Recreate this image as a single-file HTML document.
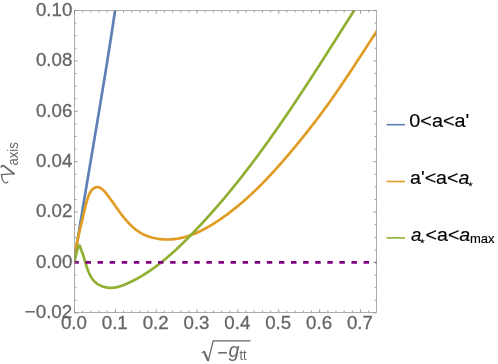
<!DOCTYPE html>
<html><head><meta charset="utf-8"><title>plot</title>
<style>html,body{margin:0;padding:0;background:#fff;overflow:hidden}svg{display:block;will-change:transform}text{font-family:"Liberation Sans",sans-serif}text.sf{font-family:"Liberation Serif",serif}</style>
</head><body>
<svg width="498" height="364" viewBox="0 0 498 364">
<rect width="498" height="364" fill="#fff"/>
<defs><clipPath id="c"><rect x="74.50" y="10.50" width="302.00" height="302.00"/></clipPath></defs>
<g clip-path="url(#c)" fill="none" stroke-linejoin="round">
<path d="M74.03 262.43 L74.72 258.07 L75.41 253.70 L76.10 249.34 L76.80 244.97 L77.50 240.61 L78.20 236.25 L78.91 231.88 L79.62 227.52 L80.33 223.16 L81.05 218.80 L81.77 214.44 L82.49 210.07 L83.21 205.71 L83.93 201.35 L84.66 196.99 L85.39 192.63 L86.12 188.27 L86.85 183.91 L87.58 179.55 L88.31 175.19 L89.05 170.83 L89.78 166.47 L90.52 162.11 L91.25 157.75 L91.99 153.39 L92.72 149.03 L93.46 144.67 L94.19 140.31 L94.93 135.95 L95.66 131.59 L96.39 127.23 L97.13 122.87 L97.86 118.51 L98.59 114.15 L99.31 109.79 L100.04 105.43 L100.76 101.07 L101.48 96.71 L102.20 92.34 L102.92 87.98 L103.64 83.62 L104.35 79.25 L105.06 74.89 L105.76 70.52 L106.47 66.16 L107.17 61.79 L107.86 57.43 L108.56 53.06 L109.24 48.69 L109.93 44.33 L110.61 39.96 L111.28 35.59 L111.96 31.22 L112.62 26.85 L113.28 22.47 L113.94 18.10 L114.59 13.73 L115.24 9.36 L115.88 4.98" stroke="#5e81b5" stroke-width="2.7"/>
<path d="M74.52 262.50 L74.56 261.29 L74.62 260.07 L74.70 258.86 L74.79 257.65 L74.90 256.44 L75.02 255.24 L75.15 254.04 L75.30 252.84 L75.47 251.64 L75.64 250.44 L75.83 249.25 L76.02 248.06 L76.23 246.87 L76.45 245.68 L76.67 244.49 L76.90 243.30 L77.14 242.11 L77.39 240.93 L77.64 239.74 L77.89 238.56 L78.15 237.37 L78.42 236.19 L78.69 235.01 L78.96 233.83 L79.23 232.64 L79.50 231.46 L79.78 230.28 L80.06 229.10 L80.34 227.92 L80.62 226.74 L80.90 225.56 L81.18 224.38 L81.46 223.20 L81.75 222.02 L82.03 220.85 L82.31 219.67 L82.60 218.49 L82.88 217.32 L83.16 216.14 L83.44 214.97 L83.71 213.80 L83.99 212.62 L84.26 211.45 L84.53 210.28 L84.80 209.11 L85.07 207.94 L85.34 206.77 L85.62 205.60 L85.91 204.43 L86.21 203.26 L86.52 202.09 L86.86 200.92 L87.21 199.75 L87.59 198.57 L88.00 197.39 L88.44 196.22 L88.91 195.04 L89.43 193.86 L89.99 192.71 L90.62 191.61 L91.33 190.59 L92.12 189.66 L93.00 188.85 L93.95 188.17 L94.94 187.64 L95.95 187.28 L96.98 187.11 L98.00 187.13 L99.00 187.35 L99.98 187.74 L100.95 188.28 L101.89 188.95 L102.82 189.74 L103.73 190.61 L104.61 191.56 L105.48 192.56 L106.32 193.59 L107.14 194.63 L107.94 195.66 L108.71 196.68 L109.46 197.69 L110.20 198.69 L110.92 199.68 L111.62 200.66 L112.32 201.64 L113.00 202.61 L113.68 203.57 L114.35 204.53 L115.02 205.49 L115.69 206.45 L116.36 207.41 L117.03 208.37 L117.71 209.33 L118.40 210.29 L119.09 211.26 L119.80 212.23 L120.52 213.20 L121.24 214.17 L121.98 215.14 L122.73 216.11 L123.49 217.07 L124.26 218.02 L125.04 218.97 L125.84 219.91 L126.65 220.84 L127.47 221.76 L128.30 222.67 L129.15 223.57 L130.01 224.44 L130.88 225.31 L131.77 226.15 L132.67 226.98 L133.59 227.78 L134.52 228.57 L135.47 229.33 L136.44 230.07 L137.42 230.78 L138.41 231.46 L139.42 232.12 L140.45 232.74 L141.50 233.34 L142.56 233.91 L143.64 234.45 L144.72 234.95 L145.83 235.44 L146.94 235.89 L148.07 236.31 L149.21 236.71 L150.36 237.08 L151.51 237.42 L152.68 237.74 L153.86 238.02 L155.04 238.29 L156.23 238.52 L157.42 238.73 L158.62 238.92 L159.83 239.07 L161.03 239.21 L162.25 239.32 L163.46 239.40 L164.67 239.46 L165.89 239.50 L167.10 239.51 L168.32 239.49 L169.53 239.46 L170.74 239.40 L171.95 239.32 L173.15 239.21 L174.35 239.09 L175.55 238.94 L176.74 238.77 L177.93 238.58 L179.11 238.36 L180.28 238.13 L181.46 237.88 L182.62 237.61 L183.79 237.32 L184.95 237.01 L186.10 236.68 L187.25 236.33 L188.39 235.97 L189.53 235.59 L190.67 235.19 L191.80 234.78 L192.93 234.35 L194.05 233.91 L195.17 233.45 L196.28 232.98 L197.39 232.49 L198.49 231.99 L199.59 231.48 L200.68 230.95 L201.77 230.41 L202.86 229.86 L203.94 229.30 L205.02 228.72 L206.09 228.14 L207.16 227.54 L208.22 226.94 L209.28 226.32 L210.33 225.70 L211.38 225.07 L212.43 224.43 L213.47 223.78 L214.50 223.13 L215.53 222.46 L216.56 221.80 L217.58 221.12 L218.60 220.44 L219.62 219.75 L220.62 219.06 L221.63 218.37 L222.63 217.67 L223.62 216.96 L224.62 216.25 L225.60 215.54 L226.59 214.82 L227.57 214.10 L228.54 213.37 L229.51 212.64 L230.48 211.90 L231.44 211.16 L232.40 210.42 L233.35 209.67 L234.30 208.92 L235.25 208.16 L236.19 207.40 L237.13 206.63 L238.07 205.86 L239.00 205.09 L239.93 204.31 L240.85 203.53 L241.77 202.75 L242.69 201.96 L243.60 201.17 L244.51 200.37 L245.42 199.57 L246.32 198.77 L247.22 197.96 L248.12 197.15 L249.01 196.34 L249.90 195.52 L250.79 194.70 L251.68 193.88 L252.56 193.05 L253.43 192.22 L254.31 191.39 L255.18 190.55 L256.05 189.71 L256.92 188.87 L257.78 188.03 L258.64 187.18 L259.50 186.33 L260.35 185.47 L261.20 184.62 L262.05 183.76 L262.90 182.90 L263.74 182.03 L264.59 181.17 L265.43 180.30 L266.26 179.42 L267.10 178.55 L267.93 177.67 L268.76 176.79 L269.59 175.91 L270.41 175.03 L271.23 174.14 L272.05 173.25 L272.87 172.36 L273.69 171.47 L274.50 170.58 L275.32 169.68 L276.13 168.78 L276.93 167.88 L277.74 166.98 L278.55 166.08 L279.35 165.17 L280.15 164.26 L280.95 163.35 L281.75 162.44 L282.54 161.53 L283.34 160.62 L284.13 159.70 L284.92 158.79 L285.71 157.87 L286.50 156.95 L287.29 156.03 L288.07 155.11 L288.86 154.18 L289.64 153.26 L290.42 152.33 L291.20 151.41 L291.98 150.48 L292.76 149.55 L293.54 148.62 L294.31 147.69 L295.09 146.76 L295.86 145.83 L296.63 144.89 L297.40 143.96 L298.17 143.02 L298.94 142.08 L299.70 141.14 L300.47 140.20 L301.23 139.26 L301.99 138.32 L302.76 137.38 L303.51 136.44 L304.27 135.49 L305.03 134.54 L305.78 133.60 L306.54 132.65 L307.29 131.70 L308.04 130.75 L308.79 129.80 L309.54 128.84 L310.29 127.89 L311.03 126.93 L311.77 125.98 L312.52 125.02 L313.26 124.06 L313.99 123.10 L314.73 122.14 L315.47 121.18 L316.20 120.21 L316.93 119.25 L317.67 118.28 L318.39 117.32 L319.12 116.35 L319.85 115.38 L320.57 114.41 L321.30 113.44 L322.02 112.46 L322.74 111.49 L323.45 110.52 L324.17 109.54 L324.89 108.56 L325.60 107.58 L326.31 106.60 L327.02 105.62 L327.73 104.64 L328.43 103.66 L329.14 102.67 L329.84 101.69 L330.54 100.70 L331.24 99.71 L331.94 98.73 L332.64 97.74 L333.33 96.75 L334.03 95.75 L334.72 94.76 L335.41 93.77 L336.10 92.77 L336.79 91.78 L337.48 90.78 L338.16 89.79 L338.85 88.79 L339.53 87.79 L340.22 86.79 L340.90 85.79 L341.58 84.79 L342.26 83.79 L342.93 82.78 L343.61 81.78 L344.29 80.78 L344.96 79.77 L345.64 78.77 L346.31 77.76 L346.98 76.75 L347.66 75.75 L348.33 74.74 L349.00 73.73 L349.67 72.72 L350.33 71.71 L351.00 70.70 L351.67 69.69 L352.33 68.68 L353.00 67.67 L353.67 66.66 L354.33 65.65 L354.99 64.63 L355.66 63.62 L356.32 62.61 L356.98 61.59 L357.64 60.58 L358.31 59.57 L358.97 58.55 L359.63 57.54 L360.29 56.52 L360.95 55.51 L361.61 54.49 L362.27 53.47 L362.92 52.46 L363.58 51.44 L364.24 50.43 L364.90 49.41 L365.56 48.39 L366.22 47.38 L366.88 46.36 L367.53 45.34 L368.19 44.33 L368.85 43.31 L369.51 42.29 L370.17 41.28 L370.82 40.26 L371.48 39.24 L372.14 38.23 L372.80 37.21 L373.46 36.19 L374.12 35.18 L374.78 34.16 L375.44 33.14 L376.10 32.13 L376.76 31.11 L377.42 30.10 L378.08 29.08 L378.74 28.07 L379.40 27.05 L380.06 26.04" stroke="#e19c24" stroke-width="2.7"/>
<path d="M74.50 262.50 L74.57 262.00 L74.65 261.50 L74.74 261.01 L74.83 260.51 L74.92 260.01 L75.02 259.50 L75.12 259.00 L75.22 258.50 L75.33 258.00 L75.44 257.50 L75.55 257.00 L75.66 256.50 L75.78 256.00 L75.90 255.50 L76.02 255.00 L76.14 254.51 L76.26 254.01 L76.39 253.52 L76.51 253.03 L76.64 252.54 L76.77 252.06 L76.90 251.57 L77.02 251.09 L77.15 250.62 L77.28 250.14 L77.41 249.65 L77.55 249.16 L77.68 248.67 L77.82 248.16 L77.96 247.64 L78.12 247.11 L78.30 246.60 L78.54 246.13 L78.84 245.72 L79.18 245.47 L79.52 245.52 L79.84 245.83 L80.09 246.27 L80.29 246.77 L80.45 247.29 L80.60 247.82 L80.76 248.34 L80.92 248.85 L81.08 249.34 L81.24 249.83 L81.41 250.31 L81.57 250.79 L81.74 251.26 L81.91 251.72 L82.08 252.19 L82.24 252.65 L82.41 253.11 L82.58 253.56 L82.74 254.02 L82.91 254.48 L83.07 254.95 L83.23 255.42 L83.38 255.89 L83.54 256.36 L83.69 256.84 L83.84 257.32 L84.00 257.80 L84.15 258.29 L84.29 258.78 L84.44 259.26 L84.59 259.76 L84.74 260.25 L84.88 260.74 L85.03 261.24 L85.18 261.74 L85.32 262.23 L85.47 262.73 L85.62 263.23 L85.77 263.73 L85.92 264.23 L86.07 264.73 L86.23 265.23 L86.38 265.73 L86.54 266.22 L86.70 266.72 L86.86 267.22 L87.02 267.71 L87.19 268.20 L87.36 268.69 L87.53 269.18 L87.71 269.67 L87.89 270.16 L88.07 270.64 L88.25 271.12 L88.44 271.59 L88.64 272.07 L88.84 272.54 L89.04 273.00 L89.25 273.47 L89.46 273.93 L89.68 274.38 L89.90 274.83 L90.13 275.28 L90.37 275.72 L90.61 276.16 L90.85 276.59 L91.11 277.01 L91.37 277.43 L91.63 277.85 L91.90 278.26 L92.18 278.66 L92.47 279.06 L92.76 279.45 L93.07 279.83 L93.38 280.21 L93.69 280.58 L94.02 280.94 L94.35 281.30 L94.69 281.64 L95.05 281.98 L95.41 282.31 L95.77 282.64 L96.15 282.95 L96.54 283.26 L96.94 283.55 L97.35 283.84 L97.76 284.12 L98.19 284.39 L98.63 284.65 L99.07 284.90 L99.53 285.14 L99.99 285.37 L100.47 285.59 L100.95 285.80 L101.43 286.00 L101.93 286.20 L102.43 286.38 L102.93 286.55 L103.44 286.71 L103.96 286.86 L104.48 287.00 L105.00 287.13 L105.52 287.25 L106.05 287.35 L106.58 287.45 L107.12 287.54 L107.65 287.61 L108.18 287.68 L108.72 287.73 L109.25 287.78 L109.79 287.81 L110.32 287.83 L110.85 287.84 L111.38 287.84 L111.91 287.83 L112.43 287.81 L112.95 287.77 L113.47 287.73 L113.98 287.67 L114.49 287.61 L115.00 287.53 L115.51 287.45 L116.02 287.36 L116.52 287.26 L117.02 287.15 L117.52 287.03 L118.01 286.91 L118.51 286.77 L119.00 286.64 L119.49 286.49 L119.98 286.34 L120.46 286.18 L120.95 286.02 L121.43 285.85 L121.91 285.68 L122.39 285.50 L122.87 285.32 L123.34 285.13 L123.82 284.94 L124.29 284.75 L124.77 284.56 L125.24 284.36 L125.71 284.16 L126.18 283.96 L126.64 283.75 L127.11 283.55 L127.58 283.34 L128.04 283.13 L128.50 282.92 L128.97 282.70 L129.43 282.49 L129.89 282.27 L130.35 282.06 L130.81 281.84 L131.26 281.61 L131.72 281.39 L132.18 281.17 L132.63 280.94 L133.08 280.71 L133.54 280.48 L133.99 280.25 L134.44 280.02 L134.89 279.79 L135.34 279.55 L135.78 279.31 L136.23 279.07 L136.68 278.83 L137.12 278.59 L137.56 278.35 L138.01 278.10 L138.45 277.86 L138.89 277.61 L139.33 277.36 L139.77 277.11 L140.21 276.85 L140.64 276.60 L141.08 276.34 L141.51 276.09 L141.95 275.83 L142.38 275.57 L142.82 275.31 L143.25 275.05 L143.68 274.78 L144.11 274.52 L144.54 274.25 L144.97 273.98 L145.39 273.71 L145.82 273.44 L146.25 273.17 L146.67 272.90 L147.09 272.62 L147.52 272.34 L147.94 272.07 L148.36 271.79 L148.78 271.51 L149.20 271.23 L149.62 270.94 L150.04 270.66 L150.46 270.37 L150.87 270.09 L151.29 269.80 L151.70 269.51 L152.12 269.22 L152.53 268.93 L152.94 268.64 L153.35 268.34 L153.77 268.05 L154.18 267.75 L154.58 267.46 L154.99 267.16 L155.40 266.86 L155.81 266.56 L156.21 266.26 L156.62 265.95 L157.03 265.65 L157.43 265.34 L157.83 265.04 L158.24 264.73 L158.64 264.42 L159.04 264.11 L159.44 263.80 L159.84 263.49 L160.24 263.18 L160.64 262.87 L161.03 262.55 L161.43 262.24 L161.83 261.92 L162.22 261.60 L162.62 261.28 L163.01 260.96 L163.41 260.64 L163.80 260.32 L164.19 260.00 L164.58 259.68 L164.97 259.35 L165.37 259.03 L165.75 258.70 L166.14 258.37 L166.53 258.05 L166.92 257.72 L167.31 257.39 L167.69 257.06 L168.08 256.73 L168.47 256.39 L168.85 256.06 L169.23 255.73 L169.62 255.39 L170.00 255.06 L170.38 254.72 L170.77 254.39 L171.15 254.05 L171.53 253.71 L171.91 253.37 L172.29 253.03 L172.67 252.69 L173.04 252.35 L173.42 252.01 L173.80 251.66 L174.18 251.32 L174.55 250.98 L174.93 250.63 L175.30 250.29 L175.68 249.94 L176.05 249.59 L176.43 249.25 L176.80 248.90 L177.17 248.55 L177.54 248.20 L177.91 247.85 L178.29 247.50 L178.66 247.15 L179.03 246.80 L179.40 246.45 L179.77 246.09 L180.13 245.74 L180.50 245.39 L180.87 245.03 L181.24 244.68 L181.60 244.32 L181.97 243.96 L182.34 243.61 L182.70 243.25 L183.07 242.89 L183.43 242.54 L183.80 242.18 L184.16 241.82 L184.52 241.46 L184.89 241.10 L185.25 240.74 L185.61 240.38 L185.97 240.02 L186.34 239.66 L186.70 239.30 L187.06 238.93 L187.42 238.57 L187.78 238.21 L188.14 237.85 L188.50 237.48 L188.85 237.12 L189.21 236.76 L189.57 236.39 L189.93 236.03 L190.29 235.66 L190.64 235.30 L191.00 234.93 L191.36 234.57 L191.71 234.20 L192.07 233.83 L192.42 233.47 L192.78 233.10 L193.13 232.73 L193.49 232.37 L193.84 232.00 L194.20 231.63 L194.55 231.26 L194.90 230.89 L195.26 230.52 L195.61 230.16 L195.96 229.79 L196.31 229.42 L196.66 229.05 L197.02 228.68 L197.37 228.31 L197.72 227.94 L198.07 227.57 L198.42 227.20 L198.77 226.82 L199.12 226.45 L199.47 226.08 L199.81 225.71 L200.16 225.34 L200.51 224.96 L200.86 224.59 L201.21 224.22 L201.55 223.85 L201.90 223.47 L202.25 223.10 L202.59 222.72 L202.94 222.35 L203.28 221.98 L203.63 221.60 L203.97 221.23 L204.32 220.85 L204.66 220.47 L205.01 220.10 L205.35 219.72 L205.69 219.35 L206.04 218.97 L206.38 218.59 L206.72 218.22 L207.07 217.84 L207.41 217.46 L207.75 217.08 L208.09 216.71 L208.43 216.33 L208.77 215.95 L209.11 215.57 L209.45 215.19 L209.79 214.81 L210.13 214.43 L210.47 214.05 L210.81 213.67 L211.15 213.29 L211.49 212.91 L211.83 212.53 L212.16 212.15 L212.50 211.77 L212.84 211.39 L213.17 211.01 L213.51 210.63 L213.85 210.25 L214.18 209.86 L214.52 209.48 L214.86 209.10 L215.19 208.72 L215.53 208.33 L215.86 207.95 L216.19 207.57 L216.53 207.18 L216.86 206.80 L217.20 206.41 L217.53 206.03 L217.86 205.65 L218.19 205.26 L218.53 204.88 L218.86 204.49 L219.19 204.10 L219.52 203.72 L219.85 203.33 L220.18 202.95 L220.52 202.56 L220.85 202.17 L221.18 201.79 L221.51 201.40 L221.84 201.01 L222.16 200.62 L222.49 200.24 L222.82 199.85 L223.15 199.46 L223.48 199.07 L223.81 198.68 L224.14 198.30 L224.46 197.91 L224.79 197.52 L225.12 197.13 L225.44 196.74 L225.77 196.35 L226.10 195.96 L226.42 195.57 L226.75 195.18 L227.07 194.79 L227.40 194.40 L227.72 194.00 L228.05 193.61 L228.37 193.22 L228.70 192.83 L229.02 192.44 L229.34 192.05 L229.67 191.65 L229.99 191.26 L230.31 190.87 L230.63 190.48 L230.96 190.08 L231.28 189.69 L231.60 189.30 L231.92 188.90 L232.24 188.51 L232.56 188.11 L232.88 187.72 L233.21 187.32 L233.53 186.93 L233.85 186.53 L234.17 186.14 L234.48 185.74 L234.80 185.35 L235.12 184.95 L235.44 184.56 L235.76 184.16 L236.08 183.76 L236.40 183.37 L236.71 182.97 L237.03 182.57 L237.35 182.18 L237.67 181.78 L237.98 181.38 L238.30 180.99 L238.62 180.59 L238.93 180.19 L239.25 179.79 L239.56 179.39 L239.88 178.99 L240.19 178.60 L240.51 178.20 L240.82 177.80 L241.14 177.40 L241.45 177.00 L241.77 176.60 L242.08 176.20 L242.39 175.80 L242.71 175.40 L243.02 175.00 L243.33 174.60 L243.65 174.20 L243.96 173.80 L244.27 173.39 L244.58 172.99 L244.89 172.59 L245.21 172.19 L245.52 171.79 L245.83 171.39 L246.14 170.98 L246.45 170.58 L246.76 170.18 L247.07 169.78 L247.38 169.37 L247.69 168.97 L248.00 168.57 L248.31 168.16 L248.62 167.76 L248.93 167.36 L249.23 166.95 L249.54 166.55 L249.85 166.14 L250.16 165.74 L250.47 165.34 L250.77 164.93 L251.08 164.53 L251.39 164.12 L251.70 163.72 L252.00 163.31 L252.31 162.90 L252.61 162.50 L252.92 162.09 L253.23 161.69 L253.53 161.28 L253.84 160.87 L254.14 160.47 L254.45 160.06 L254.75 159.65 L255.06 159.25 L255.36 158.84 L255.67 158.43 L255.97 158.02 L256.27 157.62 L256.58 157.21 L256.88 156.80 L257.18 156.39 L257.49 155.98 L257.79 155.58 L258.09 155.17 L258.40 154.76 L258.70 154.35 L259.00 153.94 L259.30 153.53 L259.60 153.12 L259.90 152.71 L260.21 152.30 L260.51 151.89 L260.81 151.48 L261.11 151.07 L261.41 150.66 L261.71 150.25 L262.01 149.84 L262.31 149.43 L262.61 149.02 L262.91 148.61 L263.21 148.20 L263.51 147.79 L263.81 147.38 L264.10 146.96 L264.40 146.55 L264.70 146.14 L265.00 145.73 L265.30 145.32 L265.60 144.90 L265.89 144.49 L266.19 144.08 L266.49 143.67 L266.79 143.25 L267.08 142.84 L267.38 142.43 L267.68 142.01 L267.97 141.60 L268.27 141.19 L268.56 140.77 L268.86 140.36 L269.16 139.95 L269.45 139.53 L269.75 139.12 L270.04 138.70 L270.34 138.29 L270.63 137.88 L270.93 137.46 L271.22 137.05 L271.52 136.63 L271.81 136.22 L272.10 135.80 L272.40 135.39 L272.69 134.97 L272.99 134.55 L273.28 134.14 L273.57 133.72 L273.86 133.31 L274.16 132.89 L274.45 132.47 L274.74 132.06 L275.04 131.64 L275.33 131.23 L275.62 130.81 L275.91 130.39 L276.20 129.98 L276.50 129.56 L276.79 129.14 L277.08 128.72 L277.37 128.31 L277.66 127.89 L277.95 127.47 L278.24 127.05 L278.53 126.64 L278.82 126.22 L279.11 125.80 L279.40 125.38 L279.69 124.96 L279.98 124.54 L280.27 124.13 L280.56 123.71 L280.85 123.29 L281.14 122.87 L281.43 122.45 L281.72 122.03 L282.01 121.61 L282.30 121.19 L282.58 120.77 L282.87 120.35 L283.16 119.93 L283.45 119.52 L283.74 119.10 L284.02 118.68 L284.31 118.26 L284.60 117.84 L284.89 117.41 L285.17 116.99 L285.46 116.57 L285.75 116.15 L286.03 115.73 L286.32 115.31 L286.61 114.89 L286.89 114.47 L287.18 114.05 L287.47 113.63 L287.75 113.21 L288.04 112.79 L288.32 112.36 L288.61 111.94 L288.89 111.52 L289.18 111.10 L289.47 110.68 L289.75 110.26 L290.04 109.83 L290.32 109.41 L290.60 108.99 L290.89 108.57 L291.17 108.14 L291.46 107.72 L291.74 107.30 L292.03 106.88 L292.31 106.45 L292.59 106.03 L292.88 105.61 L293.16 105.19 L293.45 104.76 L293.73 104.34 L294.01 103.92 L294.29 103.49 L294.58 103.07 L294.86 102.65 L295.14 102.22 L295.43 101.80 L295.71 101.38 L295.99 100.95 L296.27 100.53 L296.56 100.10 L296.84 99.68 L297.12 99.26 L297.40 98.83 L297.68 98.41 L297.97 97.98 L298.25 97.56 L298.53 97.13 L298.81 96.71 L299.09 96.28 L299.37 95.86 L299.65 95.43 L299.93 95.01 L300.21 94.59 L300.50 94.16 L300.78 93.73 L301.06 93.31 L301.34 92.88 L301.62 92.46 L301.90 92.03 L302.18 91.61 L302.46 91.18 L302.74 90.76 L303.02 90.33 L303.30 89.91 L303.58 89.48 L303.86 89.05 L304.14 88.63 L304.41 88.20 L304.69 87.78 L304.97 87.35 L305.25 86.92 L305.53 86.50 L305.81 86.07 L306.09 85.65 L306.37 85.22 L306.65 84.79 L306.92 84.37 L307.20 83.94 L307.48 83.51 L307.76 83.09 L308.04 82.66 L308.32 82.23 L308.59 81.81 L308.87 81.38 L309.15 80.95 L309.43 80.52 L309.71 80.10 L309.98 79.67 L310.26 79.24 L310.54 78.82 L310.82 78.39 L311.09 77.96 L311.37 77.53 L311.65 77.11 L311.92 76.68 L312.20 76.25 L312.48 75.82 L312.75 75.40 L313.03 74.97 L313.31 74.54 L313.58 74.11 L313.86 73.68 L314.14 73.26 L314.41 72.83 L314.69 72.40 L314.97 71.97 L315.24 71.54 L315.52 71.12 L315.80 70.69 L316.07 70.26 L316.35 69.83 L316.62 69.40 L316.90 68.98 L317.17 68.55 L317.45 68.12 L317.73 67.69 L318.00 67.26 L318.28 66.83 L318.55 66.41 L318.83 65.98 L319.10 65.55 L319.38 65.12 L319.65 64.69 L319.93 64.26 L320.20 63.83 L320.48 63.40 L320.75 62.98 L321.03 62.55 L321.30 62.12 L321.58 61.69 L321.85 61.26 L322.13 60.83 L322.40 60.40 L322.68 59.97 L322.95 59.54 L323.23 59.12 L323.50 58.69 L323.78 58.26 L324.05 57.83 L324.32 57.40 L324.60 56.97 L324.87 56.54 L325.15 56.11 L325.42 55.68 L325.69 55.25 L325.97 54.82 L326.24 54.39 L326.52 53.96 L326.79 53.54 L327.06 53.11 L327.34 52.68 L327.61 52.25 L327.89 51.82 L328.16 51.39 L328.43 50.96 L328.71 50.53 L328.98 50.10 L329.25 49.67 L329.53 49.24 L329.80 48.81 L330.07 48.38 L330.35 47.95 L330.62 47.52 L330.89 47.09 L331.17 46.66 L331.44 46.23 L331.71 45.80 L331.99 45.38 L332.26 44.95 L332.53 44.52 L332.81 44.09 L333.08 43.66 L333.35 43.23 L333.63 42.80 L333.90 42.37 L334.17 41.94 L334.45 41.51 L334.72 41.08 L334.99 40.65 L335.27 40.22 L335.54 39.79 L335.81 39.36 L336.08 38.93 L336.36 38.50 L336.63 38.07 L336.90 37.64 L337.18 37.21 L337.45 36.78 L337.72 36.35 L337.99 35.92 L338.27 35.49 L338.54 35.06 L338.81 34.63 L339.09 34.20 L339.36 33.78 L339.63 33.35 L339.90 32.92 L340.18 32.49 L340.45 32.06 L340.72 31.63 L340.99 31.20 L341.27 30.77 L341.54 30.34 L341.81 29.91 L342.08 29.48 L342.36 29.05 L342.63 28.62 L342.90 28.19 L343.18 27.76 L343.45 27.33 L343.72 26.90 L343.99 26.47 L344.27 26.04 L344.54 25.61 L344.81 25.19 L345.08 24.76 L345.36 24.33 L345.63 23.90 L345.90 23.47 L346.17 23.04 L346.45 22.61 L346.72 22.18 L346.99 21.75 L347.27 21.32 L347.54 20.89 L347.81 20.46 L348.08 20.03 L348.36 19.61 L348.63 19.18 L348.90 18.75 L349.17 18.32 L349.45 17.89 L349.72 17.46 L349.99 17.03 L350.27 16.60 L350.54 16.17 L350.81 15.74 L351.08 15.32 L351.36 14.89 L351.63 14.46 L351.90 14.03 L352.18 13.60 L352.45 13.17 L352.72 12.74 L353.00 12.32 L353.27 11.89 L353.54 11.46 L353.81 11.03 L354.09 10.60 L354.36 10.17 L354.63 9.74 L354.91 9.32 L355.18 8.89 L355.45 8.46 L355.73 8.03 L356.00 7.60 L356.27 7.18 L356.55 6.75 L356.82 6.32 L357.09 5.89 L357.37 5.46 L357.64 5.04" stroke="#8fb032" stroke-width="2.7"/>
<path d="M73.41 262.4 H380" stroke="#800080" stroke-width="2.7" stroke-dasharray="5.45 6.64"/>
</g>
<path d="M74.50 312.90 h3.20 M376.50 312.90 h-3.20 M74.50 300.30 h1.90 M376.50 300.30 h-1.90 M74.50 287.70 h1.90 M376.50 287.70 h-1.90 M74.50 275.10 h1.90 M376.50 275.10 h-1.90 M74.50 262.50 h3.20 M376.50 262.50 h-3.20 M74.50 249.90 h1.90 M376.50 249.90 h-1.90 M74.50 237.30 h1.90 M376.50 237.30 h-1.90 M74.50 224.70 h1.90 M376.50 224.70 h-1.90 M74.50 212.10 h3.20 M376.50 212.10 h-3.20 M74.50 199.50 h1.90 M376.50 199.50 h-1.90 M74.50 186.90 h1.90 M376.50 186.90 h-1.90 M74.50 174.30 h1.90 M376.50 174.30 h-1.90 M74.50 161.70 h3.20 M376.50 161.70 h-3.20 M74.50 149.10 h1.90 M376.50 149.10 h-1.90 M74.50 136.50 h1.90 M376.50 136.50 h-1.90 M74.50 123.90 h1.90 M376.50 123.90 h-1.90 M74.50 111.30 h3.20 M376.50 111.30 h-3.20 M74.50 98.70 h1.90 M376.50 98.70 h-1.90 M74.50 86.10 h1.90 M376.50 86.10 h-1.90 M74.50 73.50 h1.90 M376.50 73.50 h-1.90 M74.50 60.90 h3.20 M376.50 60.90 h-3.20 M74.50 48.30 h1.90 M376.50 48.30 h-1.90 M74.50 35.70 h1.90 M376.50 35.70 h-1.90 M74.50 23.10 h1.90 M376.50 23.10 h-1.90 M74.50 10.50 h3.20 M376.50 10.50 h-3.20 M74.50 312.50 v-3.20 M74.50 10.50 v3.20 M82.67 312.50 v-1.90 M82.67 10.50 v1.90 M90.84 312.50 v-1.90 M90.84 10.50 v1.90 M99.02 312.50 v-1.90 M99.02 10.50 v1.90 M107.19 312.50 v-1.90 M107.19 10.50 v1.90 M115.36 312.50 v-3.20 M115.36 10.50 v3.20 M123.53 312.50 v-1.90 M123.53 10.50 v1.90 M131.70 312.50 v-1.90 M131.70 10.50 v1.90 M139.88 312.50 v-1.90 M139.88 10.50 v1.90 M148.05 312.50 v-1.90 M148.05 10.50 v1.90 M156.22 312.50 v-3.20 M156.22 10.50 v3.20 M164.39 312.50 v-1.90 M164.39 10.50 v1.90 M172.56 312.50 v-1.90 M172.56 10.50 v1.90 M180.74 312.50 v-1.90 M180.74 10.50 v1.90 M188.91 312.50 v-1.90 M188.91 10.50 v1.90 M197.08 312.50 v-3.20 M197.08 10.50 v3.20 M205.25 312.50 v-1.90 M205.25 10.50 v1.90 M213.42 312.50 v-1.90 M213.42 10.50 v1.90 M221.60 312.50 v-1.90 M221.60 10.50 v1.90 M229.77 312.50 v-1.90 M229.77 10.50 v1.90 M237.94 312.50 v-3.20 M237.94 10.50 v3.20 M246.11 312.50 v-1.90 M246.11 10.50 v1.90 M254.28 312.50 v-1.90 M254.28 10.50 v1.90 M262.46 312.50 v-1.90 M262.46 10.50 v1.90 M270.63 312.50 v-1.90 M270.63 10.50 v1.90 M278.80 312.50 v-3.20 M278.80 10.50 v3.20 M286.97 312.50 v-1.90 M286.97 10.50 v1.90 M295.14 312.50 v-1.90 M295.14 10.50 v1.90 M303.32 312.50 v-1.90 M303.32 10.50 v1.90 M311.49 312.50 v-1.90 M311.49 10.50 v1.90 M319.66 312.50 v-3.20 M319.66 10.50 v3.20 M327.83 312.50 v-1.90 M327.83 10.50 v1.90 M336.00 312.50 v-1.90 M336.00 10.50 v1.90 M344.18 312.50 v-1.90 M344.18 10.50 v1.90 M352.35 312.50 v-1.90 M352.35 10.50 v1.90 M360.52 312.50 v-3.20 M360.52 10.50 v3.20 M368.69 312.50 v-1.90 M368.69 10.50 v1.90" stroke="#707070" stroke-width="0.7" fill="none"/>
<rect x="74.50" y="10.50" width="302.00" height="302.00" fill="none" stroke="#8c8c8c" stroke-width="0.7"/>
<g font-size="18.7" fill="#666666" stroke="#666666" stroke-width="0.3">
<text x="72.3" y="318.10" text-anchor="end" textLength="47.6" lengthAdjust="spacingAndGlyphs">−0.02</text>
<text x="72.3" y="267.70" text-anchor="end">0.00</text>
<text x="72.3" y="217.30" text-anchor="end">0.02</text>
<text x="72.3" y="166.90" text-anchor="end">0.04</text>
<text x="72.3" y="116.50" text-anchor="end">0.06</text>
<text x="72.3" y="66.10" text-anchor="end">0.08</text>
<text x="72.3" y="15.70" text-anchor="end">0.10</text>
<text x="73.90" y="329.2" text-anchor="middle">0.0</text>
<text x="114.76" y="329.2" text-anchor="middle">0.1</text>
<text x="155.62" y="329.2" text-anchor="middle">0.2</text>
<text x="196.48" y="329.2" text-anchor="middle">0.3</text>
<text x="237.34" y="329.2" text-anchor="middle">0.4</text>
<text x="278.20" y="329.2" text-anchor="middle">0.5</text>
<text x="319.06" y="329.2" text-anchor="middle">0.6</text>
<text x="359.92" y="329.2" text-anchor="middle">0.7</text>
</g>
<g stroke-width="1.6" fill="none">
<path d="M386.6 124.7 H405" stroke="#5e81b5"/>
<path d="M386.6 181.5 H405" stroke="#e19c24"/>
<path d="M386.6 237.9 H405" stroke="#8fb032"/>
</g>
<g font-size="18.7" fill="#000" stroke="#000" stroke-width="0.15">
<text x="409.3" y="127.0" textLength="60" lengthAdjust="spacingAndGlyphs">0&lt;a&lt;a'</text>
<text x="410.0" y="183.7" textLength="59.3" lengthAdjust="spacingAndGlyphs">a'&lt;a&lt;<tspan font-style="italic">a</tspan></text>
<polygon points="470.45,181.65 470.92,183.65 472.97,183.48 471.21,184.55 472.01,186.44 470.45,185.10 468.89,186.44 469.69,184.55 467.93,183.48 469.98,183.65" fill="#000"/>
<text x="411.0" y="240.5" font-style="italic">a</text>
<polygon points="422.20,238.55 422.67,240.55 424.72,240.38 422.96,241.45 423.76,243.34 422.20,242.00 420.64,243.34 421.44,241.45 419.68,240.38 421.73,240.55" fill="#000"/>
<text x="425.6" y="240.5" textLength="44.6" lengthAdjust="spacingAndGlyphs">&lt;a&lt;<tspan font-style="italic">a</tspan></text>
<text x="470.0" y="243.4" font-size="13" textLength="24.6" lengthAdjust="spacingAndGlyphs">max</text>
</g>
<g fill="#666666">
<text transform="translate(18.3 165.6) rotate(-90)" font-size="14" textLength="23.3" lengthAdjust="spacingAndGlyphs">axis</text>
</g>
<g fill="none" stroke="#666666" stroke-linecap="round" stroke-linejoin="round">
<path d="M1.3 166.7 Q2.2 165.0 3.9 165.9 L14.0 173.7" stroke-width="1.8"/>
<path d="M14.0 173.8 Q7.5 173.7 1.5 174.7" stroke-width="1.3"/>
<path d="M1.5 174.6 Q1.5 179.5 4.2 182.1 Q6.4 183.8 7.8 181.8" stroke-width="1.2"/>
</g>
<g fill="none" stroke="#666666" stroke-linejoin="miter">
<path d="M201.4 352.9 L204.0 351.4" stroke-width="1.0"/>
<path d="M203.8 351.2 L208.2 360.9" stroke-width="2.1"/>
<path d="M208.2 361.2 L213.2 340.8 H250.4" stroke-width="1.25"/>
<path d="M218.1 352.8 H226.9" stroke-width="1.5"/>
</g>
<g fill="#666666">
<text x="228.6" y="356.9" font-size="19.6" font-style="italic">g</text>
<text x="239.6" y="360.1" font-size="14.2" textLength="7.0" lengthAdjust="spacingAndGlyphs">tt</text>
</g>
</svg>
</body></html>
